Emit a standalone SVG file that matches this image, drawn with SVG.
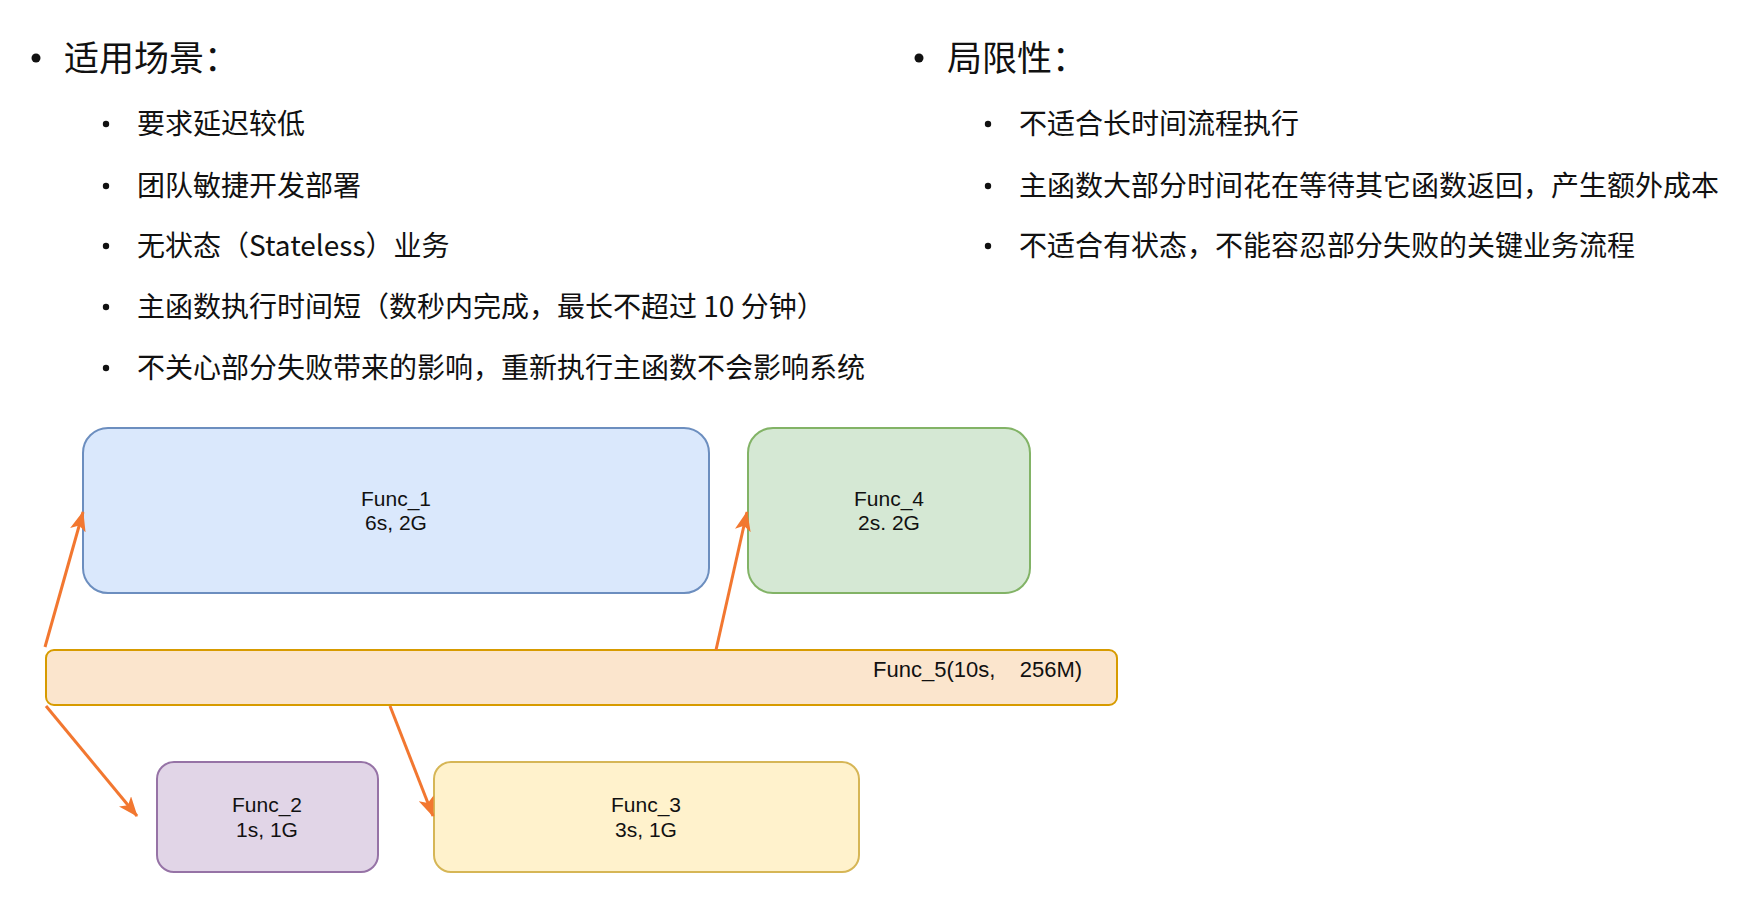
<svg xmlns="http://www.w3.org/2000/svg" width="1738" height="910" viewBox="0 0 1738 910">
<style>
.h{font-family:"Noto Sans CJK SC","Noto Sans",sans-serif;font-size:35px;fill:#111}
.t{font-family:"Noto Sans CJK SC","Noto Sans",sans-serif;font-size:28px;fill:#111}
.lb{font-family:"Liberation Sans",Arial,sans-serif;font-size:21px;fill:#111;text-anchor:middle}
.dot{fill:#111}
.arrow{stroke:#F27730;stroke-width:3;fill:none;marker-end:url(#ah)}
</style>
<defs>
<marker id="ah" viewBox="0 0 20 16" refX="19" refY="8" markerWidth="20" markerHeight="16" markerUnits="userSpaceOnUse" orient="auto">
<path d="M0,0 L20,8 L0,16 L5,8 Z" fill="#F27730"/>
</marker>
</defs>
<rect width="1738" height="910" fill="#ffffff"/>
<g id="left-list">
<circle class="dot" cx="36" cy="58" r="4.5"/>
<text class="h" x="64" y="71">适用场景：</text>
<circle class="dot" cx="106" cy="124" r="3.2"/>
<text class="t" x="137" y="134">要求延迟较低</text>
<circle class="dot" cx="106" cy="186" r="3.2"/>
<text class="t" x="137" y="196">团队敏捷开发部署</text>
<circle class="dot" cx="106" cy="246" r="3.2"/>
<text class="t" x="137" y="256">无状态（Stateless）业务</text>
<circle class="dot" cx="106" cy="307" r="3.2"/>
<text class="t" x="137" y="317">主函数执行时间短（数秒内完成，最长不超过 10 分钟）</text>
<circle class="dot" cx="106" cy="368" r="3.2"/>
<text class="t" x="137" y="378">不关心部分失败带来的影响，重新执行主函数不会影响系统</text>
</g>
<g id="right-list">
<circle class="dot" cx="919" cy="58" r="4.5"/>
<text class="h" x="947" y="71">局限性：</text>
<circle class="dot" cx="988" cy="124" r="3.2"/>
<text class="t" x="1019" y="134">不适合长时间流程执行</text>
<circle class="dot" cx="988" cy="186" r="3.2"/>
<text class="t" x="1019" y="196">主函数大部分时间花在等待其它函数返回，产生额外成本</text>
<circle class="dot" cx="988" cy="246" r="3.2"/>
<text class="t" x="1019" y="256">不适合有状态，不能容忍部分失败的关键业务流程</text>
</g>
<g id="func1">
<rect x="83" y="428" width="626" height="165" rx="25" fill="#dae8fc" stroke="#6c8ebf" stroke-width="2"/>
<text class="lb" x="396" y="506">Func_1</text>
<text class="lb" x="396" y="530">6s, 2G</text>
</g>
<g id="func4">
<rect x="748" y="428" width="282" height="165" rx="25" fill="#d5e8d4" stroke="#82b366" stroke-width="2"/>
<text class="lb" x="889" y="506">Func_4</text>
<text class="lb" x="889" y="530">2s. 2G</text>
</g>
<g id="func5">
<rect x="46" y="650" width="1071" height="55" rx="8" fill="#fbe5cd" stroke="#d79b00" stroke-width="2"/>
<text class="lb" x="873" y="677" style="text-anchor:start;white-space:pre;font-size:22px" xml:space="preserve">Func_5(10s,    256M)</text>
</g>
<g id="func2">
<rect x="157" y="762" width="221" height="110" rx="17" fill="#e1d5e7" stroke="#9673a6" stroke-width="2"/>
<text class="lb" x="267" y="812">Func_2</text>
<text class="lb" x="267" y="837">1s, 1G</text>
</g>
<g id="func3">
<rect x="434" y="762" width="425" height="110" rx="17" fill="#fff2cc" stroke="#d6b656" stroke-width="2"/>
<text class="lb" x="646" y="812">Func_3</text>
<text class="lb" x="646" y="837">3s, 1G</text>
</g>
<g id="connectors">
<line class="arrow" x1="45" y1="647" x2="83" y2="512"/>
<line class="arrow" x1="716" y1="650" x2="747" y2="512"/>
<line class="arrow" x1="46" y1="706" x2="137" y2="816"/>
<line class="arrow" x1="390" y1="706" x2="433" y2="816"/>
</g>
</svg>
